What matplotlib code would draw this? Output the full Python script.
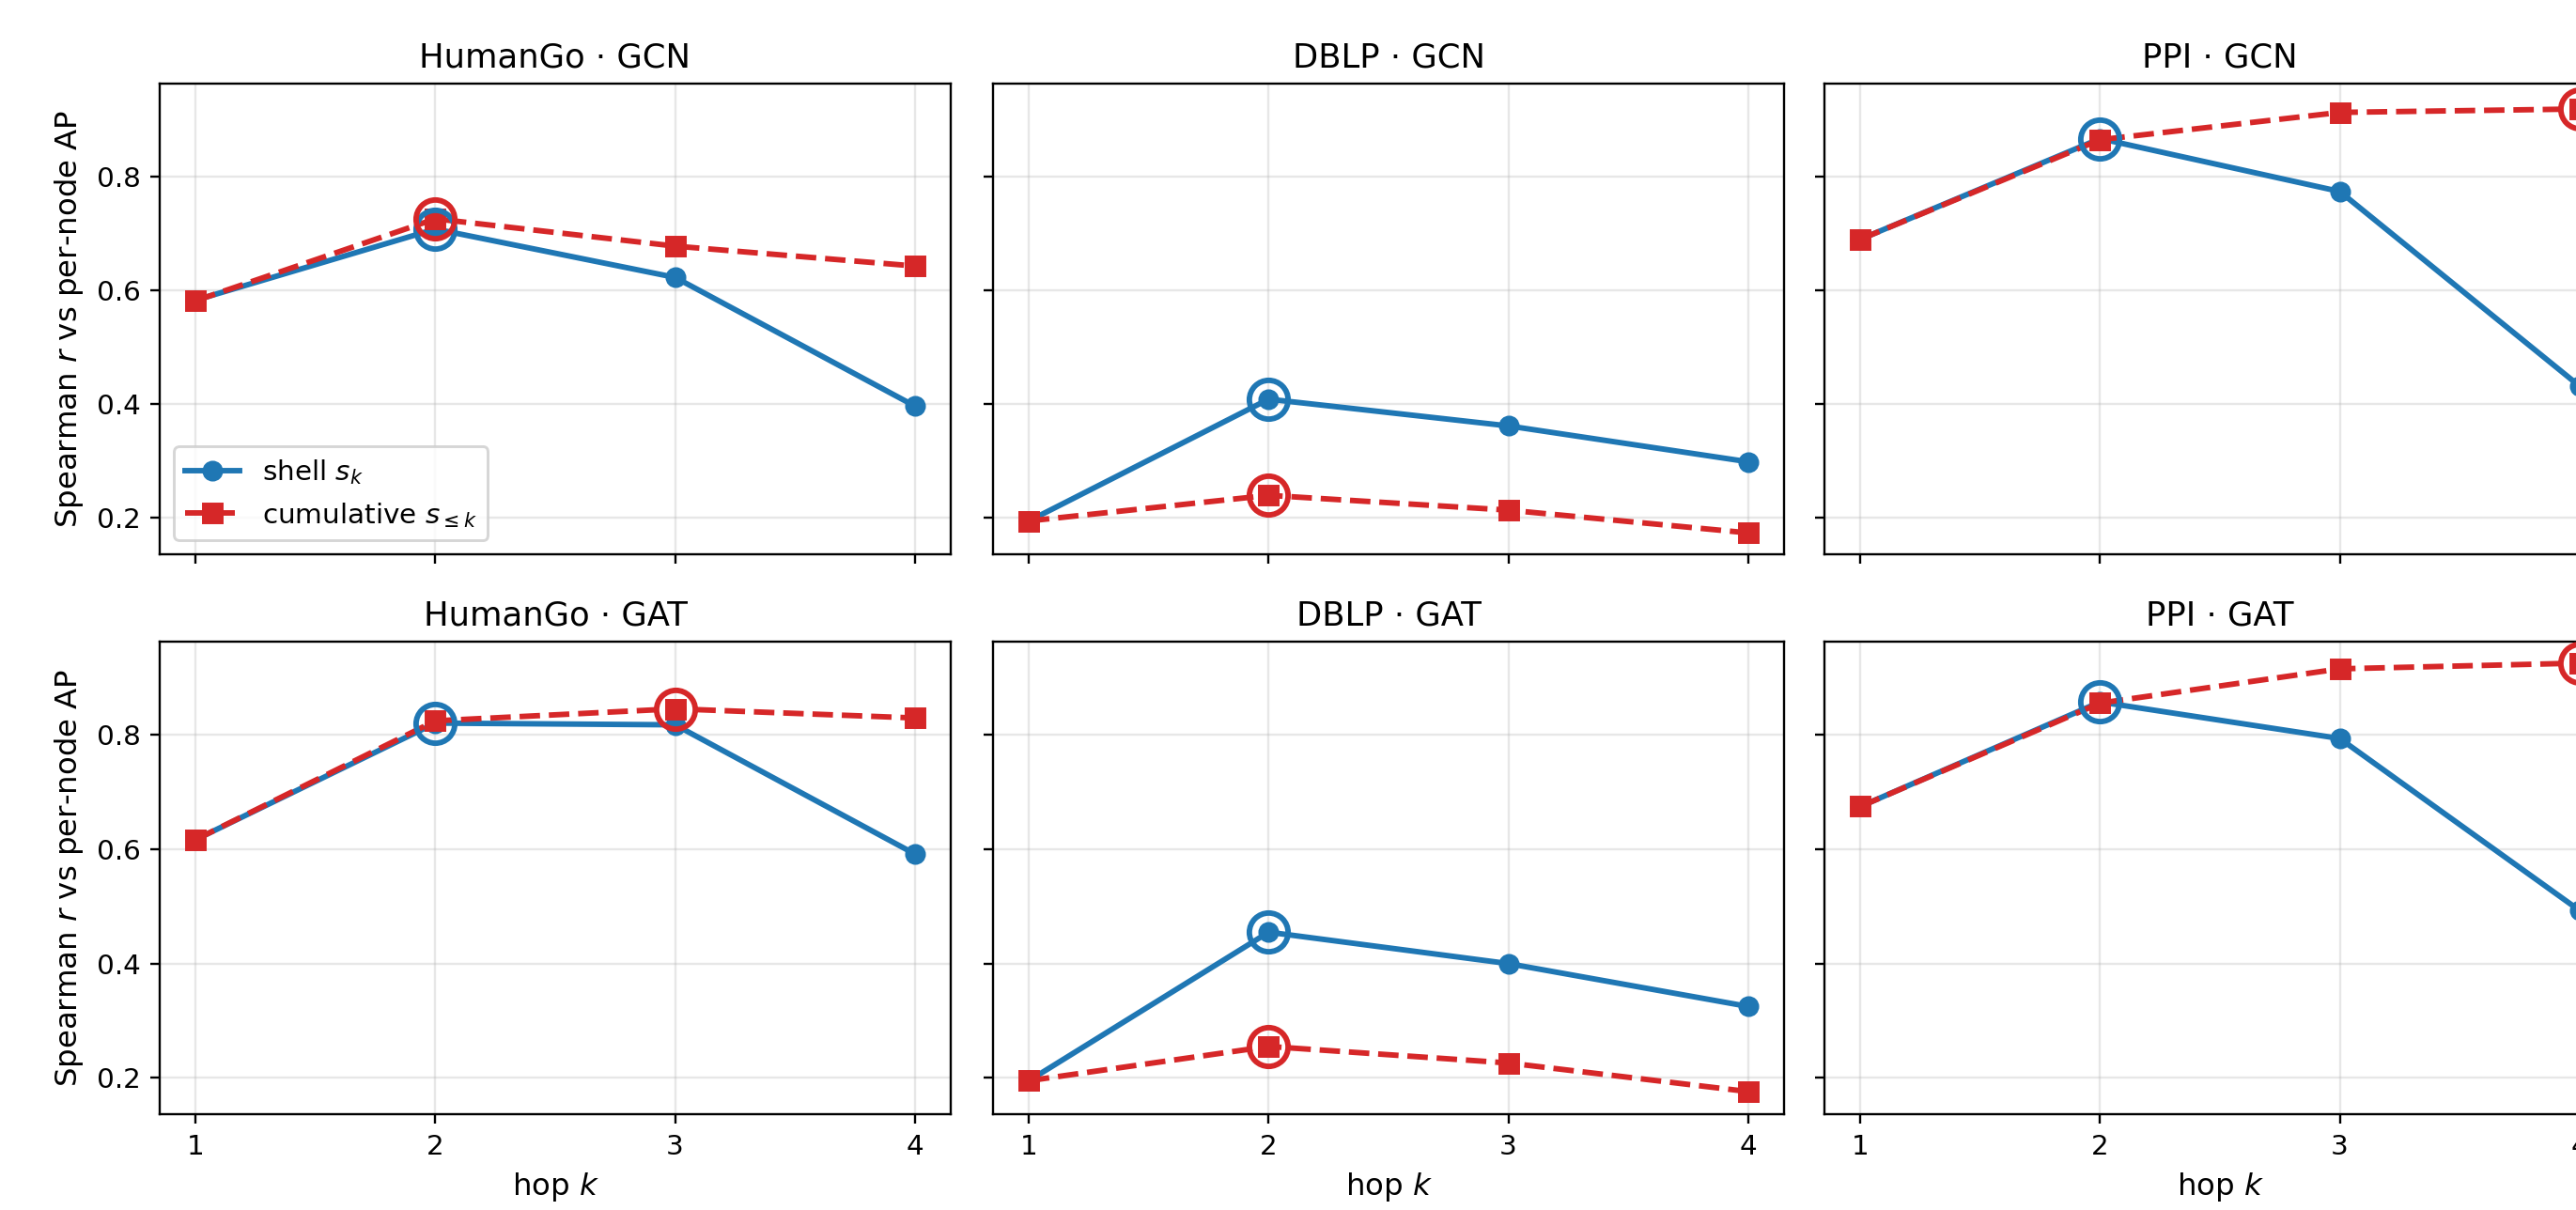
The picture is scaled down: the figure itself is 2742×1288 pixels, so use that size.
import matplotlib
matplotlib.use("Agg")
import matplotlib.pyplot as plt
import numpy as np

hops = [1, 2, 3, 4]
datasets = ["HumanGo", "DBLP", "PPI"]
models = ["GCN", "GAT"]

# shell s_k and cumulative s_{<=k} Spearman r values
shell_gcn = {
    "HumanGo": [0.583, 0.708, 0.623, 0.397],
    "DBLP": [0.195, 0.409, 0.362, 0.299],
    "PPI": [0.690, 0.867, 0.774, 0.432],
}
cum_gcn = {
    "HumanGo": [0.582, 0.726, 0.678, 0.643],
    "DBLP": [0.195, 0.240, 0.214, 0.174],
    "PPI": [0.690, 0.865, 0.913, 0.919],
}
shell_gat = {
    "HumanGo": [0.617, 0.821, 0.818, 0.592],
    "DBLP": [0.195, 0.455, 0.400, 0.325],
    "PPI": [0.675, 0.858, 0.794, 0.493],
}
cum_gat = {
    "HumanGo": [0.617, 0.825, 0.846, 0.830],
    "DBLP": [0.195, 0.255, 0.226, 0.176],
    "PPI": [0.675, 0.856, 0.916, 0.926],
}

shell = {"GCN": shell_gcn, "GAT": shell_gat}
cum = {"GCN": cum_gcn, "GAT": cum_gat}

BLUE = "#1f77b4"
RED = "#d62728"

DPI = 212
W, H = 2742, 1288
fig = plt.figure(figsize=(W / DPI, H / DPI), dpi=DPI)

lefts = [170, 1057, 1942]
aw = 842
rows = [(89, 590), (683, 1186)]

first = None
for r, m in enumerate(models):
    top, bot = rows[r]
    for c, d in enumerate(datasets):
        rect = [lefts[c] / W, 1 - bot / H, aw / W, (bot - top) / H]
        if first is None:
            ax = fig.add_axes(rect)
            first = ax
        else:
            ax = fig.add_axes(rect, sharex=first, sharey=first)
        s = shell[m][d]
        cu = cum[m][d]
        ax.plot(hops, s, "-o", color=BLUE, lw=2, ms=6.5, label="shell $s_k$", zorder=3)
        ax.plot(hops, cu, "--s", color=RED, lw=2, ms=6.5, label="cumulative $s_{\\leq k}$", zorder=4)
        i_s = int(np.argmax(s))
        i_c = int(np.argmax(cu))
        ax.plot([hops[i_s]], [s[i_s]], "o", ms=14, mfc="none", mec=BLUE, mew=2, zorder=5)
        ax.plot([hops[i_c]], [cu[i_c]], "o", ms=14, mfc="none", mec=RED, mew=2, zorder=6)
        ax.grid(True, alpha=0.3)
        ax.set_title(f"{d} · {m}", fontsize=12)
        ax.set_xticks(hops)
        ax.set_yticks([0.2, 0.4, 0.6, 0.8])
        ax.tick_params(labelsize=10)
        if c == 0:
            ax.set_ylabel("Spearman $r$ vs per-node AP", fontsize=11)
        else:
            ax.tick_params(labelleft=False)
        if r == 1:
            ax.set_xlabel("hop $k$", fontsize=11)
        else:
            ax.tick_params(labelbottom=False)
        if r == 0 and c == 0:
            ax.legend(loc="lower left", fontsize=10)

fig.savefig("out.png", dpi=DPI)
